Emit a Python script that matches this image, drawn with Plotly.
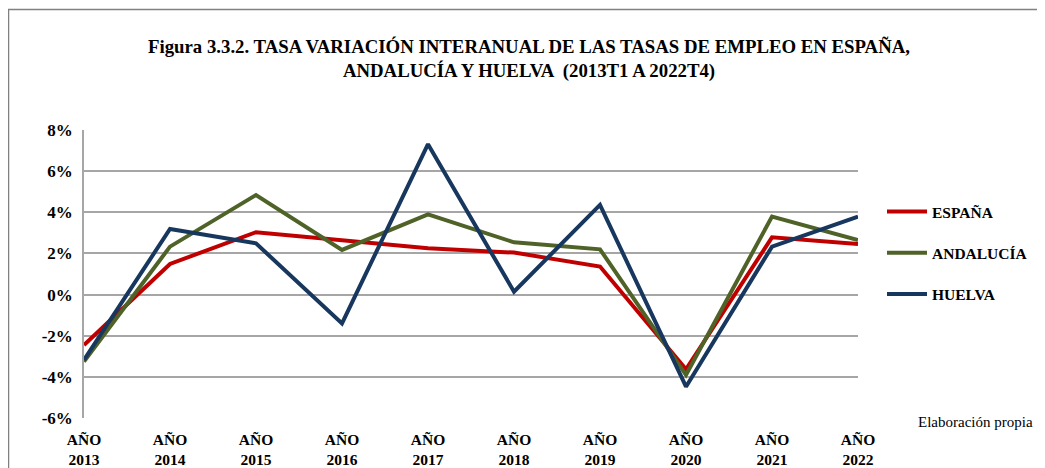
import plotly.graph_objects as go

years = ["2013", "2014", "2015", "2016", "2017", "2018", "2019", "2020", "2021", "2022"]
tick_labels = ["AÑO<br>" + y for y in years]
espana = [-2.45, 1.49, 3.03, 2.62, 2.25, 2.04, 1.36, -3.63, 2.78, 2.46]
andalucia = [-3.26, 2.33, 4.84, 2.17, 3.90, 2.54, 2.20, -3.91, 3.79, 2.65]
huelva = [-3.18, 3.19, 2.49, -1.40, 7.31, 0.14, 4.36, -4.48, 2.33, 3.79]
y_ticks = [-6, -4, -2, 0, 2, 4, 6, 8]
y_ticktext = [f"{v}%" for v in y_ticks]

series = [("ESPAÑA", espana, "#C00000"), ("ANDALUCÍA", andalucia, "#4F6228"), ("HUELVA", huelva, "#17375E")]

OFF = 8  # browser body margin
W, H = 1045 - OFF, 468 - OFF
L, T = 84 - OFF, 130 - OFF
R, B = 1045 - 858, 468 - 418
pw, ph = W - L - R, H - T - B

def px(x):
    return (x - OFF - L) / pw

def py(y):
    return (H - B - (y - OFF)) / ph

FONT = "Liberation Serif"

fig = go.Figure()
x = list(range(len(years)))
for i, (name, vals, col) in enumerate(series):
    fig.add_trace(go.Scatter(x=x, y=vals, name="<b>" + name + "</b>", mode="lines",
                             line=dict(color=col, width=4), legendgroup=str(i)))

fig.update_layout(
    width=W, height=H,
    margin=dict(l=L, r=R, t=T, b=B, autoexpand=False),
    paper_bgcolor="white", plot_bgcolor="white",
    font=dict(family=FONT, color="#000000"),
    showlegend=True,
    legend=dict(x=px(882), y=py(195), xanchor="left", yanchor="top",
                font=dict(family=FONT, size=15.5, color="#000"),
                tracegroupgap=18, itemwidth=40, bgcolor="rgba(0,0,0,0)"),
    xaxis=dict(range=[0, len(years) - 1], tickvals=x, ticktext=["<b>" + t + "</b>" for t in tick_labels],
               showgrid=False, zeroline=False, showline=False, ticks="",
               ticklabelstandoff=10, automargin=False,
               tickfont=dict(family=FONT, size=15.5, color="#000")),
    yaxis=dict(range=[-6, 8], tickvals=y_ticks, ticktext=["<b>" + t + "</b>" for t in y_ticktext],
               showgrid=True, gridcolor="#A6A6A6", gridwidth=1.5, zeroline=False,
               showline=True, linecolor="#A6A6A6", linewidth=1.5, ticks="",
               ticklabelstandoff=6, automargin=False,
               tickfont=dict(family=FONT, size=17, color="#000")),
)

fig.add_annotation(text="<b>Figura 3.3.2. TASA VARIACIÓN INTERANUAL DE LAS TASAS DE EMPLEO EN ESPAÑA,<br>ANDALUCÍA Y HUELVA  (2013T1 A 2022T4)</b>",
                   xref="paper", yref="paper", x=px(529), y=py(59), xanchor="center", yanchor="middle",
                   showarrow=False, font=dict(family=FONT, size=18.8, color="#000"))
fig.add_annotation(text="Elaboración propia", xref="paper", yref="paper",
                   x=px(1035), y=py(422), xanchor="right", yanchor="middle",
                   showarrow=False, font=dict(family=FONT, size=15, color="#000"))
# frame
fig.add_shape(type="line", xref="paper", yref="paper", x0=px(8), x1=px(1050), y0=py(9.5), y1=py(9.5),
              line=dict(color="#808080", width=1.5))
fig.add_shape(type="line", xref="paper", yref="paper", x0=px(8.5), x1=px(8.5), y0=py(9.5), y1=py(475),
              line=dict(color="#808080", width=1.5))

fig.write_html("out.html")
